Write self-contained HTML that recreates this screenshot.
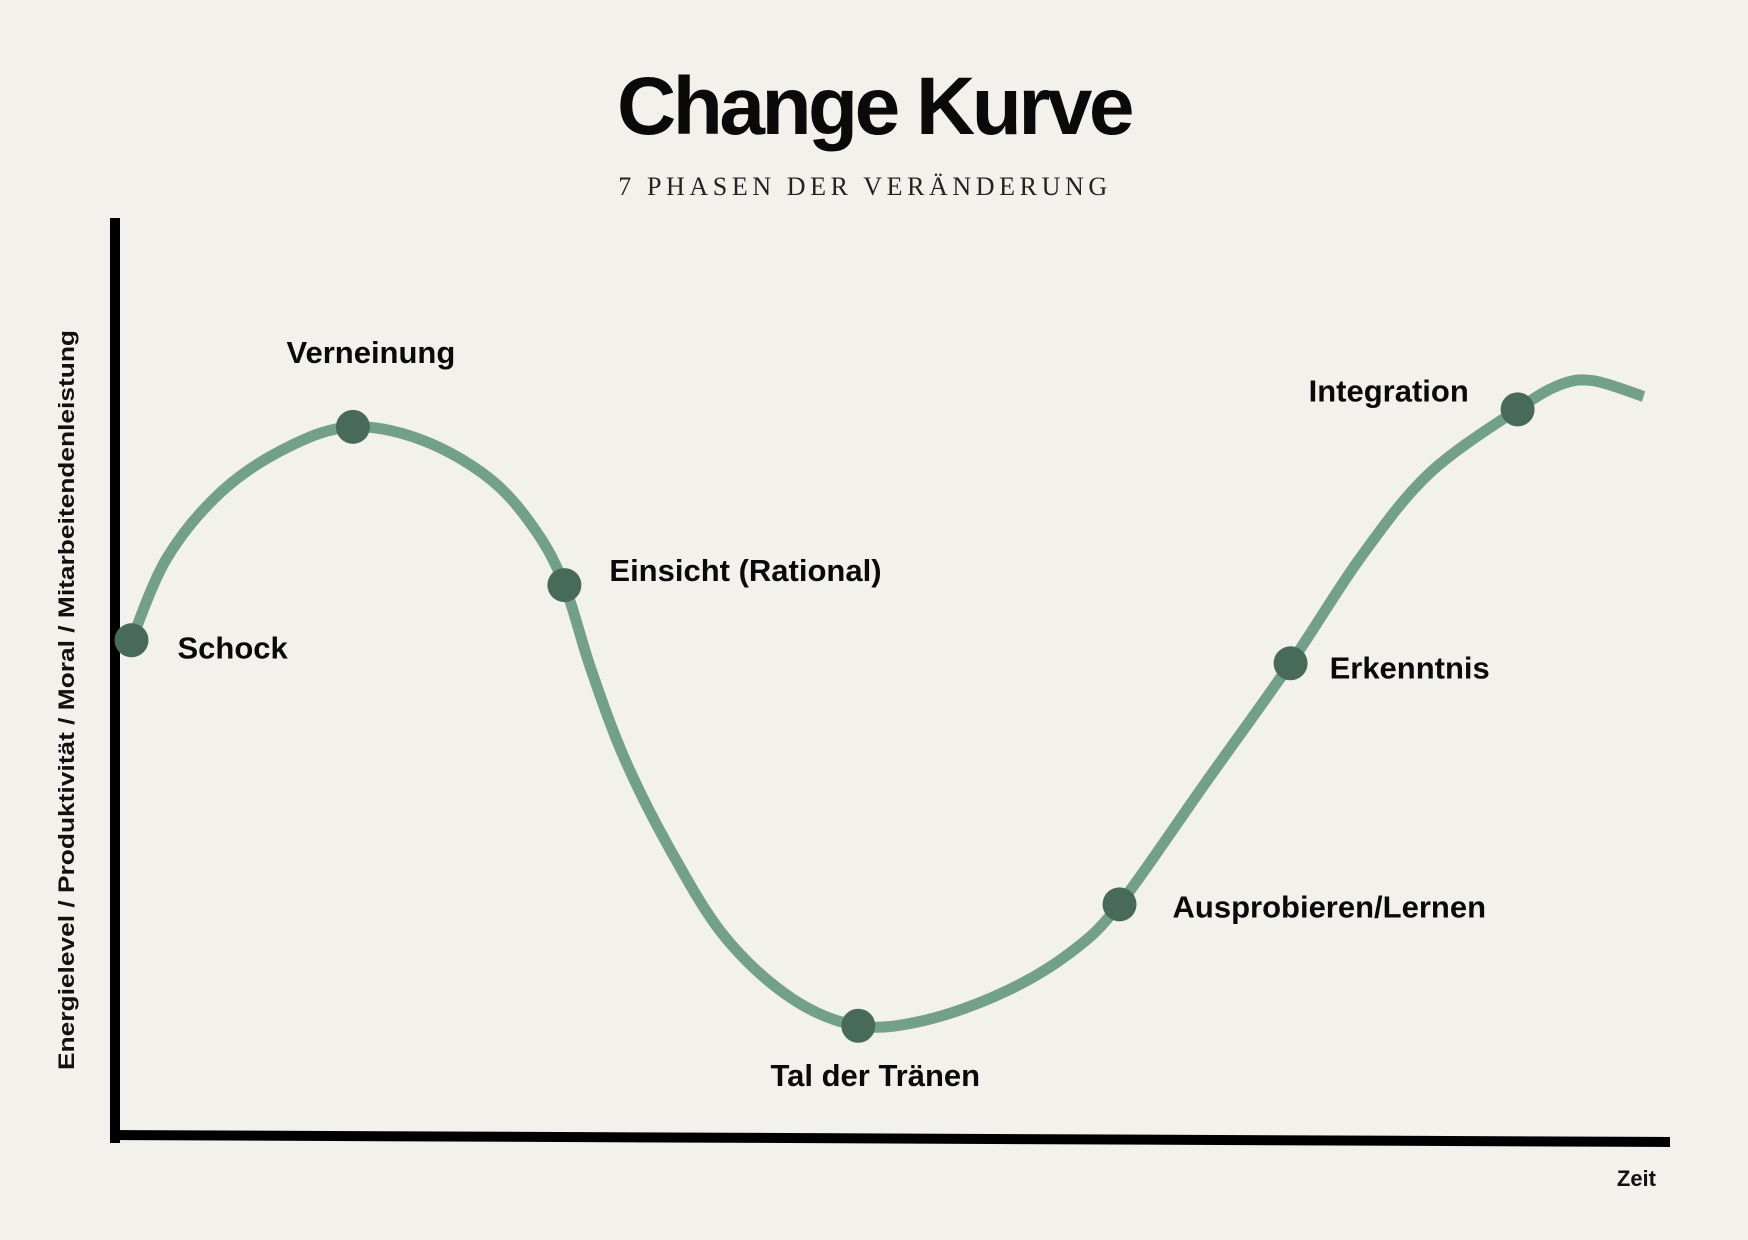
<!DOCTYPE html>
<html><head><meta charset="utf-8"><style>
html,body{margin:0;padding:0;background:#f2f1ec;}
svg{display:block;}
</style></head><body>
<svg id="chart" width="1748" height="1240" viewBox="0 0 1748 1240" xmlns="http://www.w3.org/2000/svg">
<rect width="1748" height="1240" fill="#f2f1ec"/>
<text x="874" y="134" text-anchor="middle" font-family="Liberation Sans, sans-serif" font-weight="bold" font-size="82" letter-spacing="-3.5" fill="#0a0a0a">Change Kurve</text>
<text x="865" y="195" text-anchor="middle" font-family="Liberation Serif, serif" font-size="26" letter-spacing="4.6" fill="#222">7 PHASEN DER VERÄNDERUNG</text>
<line x1="115" y1="218" x2="115" y2="1143" stroke="#000" stroke-width="10"/>
<line x1="110" y1="1135" x2="1670" y2="1142" stroke="#000" stroke-width="10"/>
<text transform="translate(74,700) rotate(-90)" text-anchor="middle" font-family="Liberation Sans, sans-serif" font-weight="bold" font-size="22" textLength="740" lengthAdjust="spacingAndGlyphs" fill="#111">Energielevel / Produktivität / Moral / Mitarbeitendenleistung</text>
<text x="1656" y="1186" text-anchor="end" font-family="Liberation Sans, sans-serif" font-weight="bold" font-size="22" fill="#111">Zeit</text>
<g id="plot"></g>
</svg>
<script>
const phases = ["Schock","Verneinung","Einsicht (Rational)","Tal der Tränen","Ausprobieren/Lernen","Erkenntnis","Integration"];
const times = [1.06, 15.3, 28.9, 47.8, 64.6, 75.6, 90.2];
const levels = [54.1, 77.3, 60.1, 12.2, 25.4, 51.6, 79.2];
const curveTimes = [1.06, 3.36, 6.94, 11.24, 15.3, 19.84, 24.15, 27.02, 28.9, 30.6, 32.75, 35.62, 39.2, 43.5, 47.8, 52.1, 57.1, 61.4, 64.6, 70.0, 75.6, 80.1, 84.5, 90.2, 92.97, 95.1, 98.3];
const curveLevels = [54.1, 63.1, 70.4, 75.2, 77.3, 75.8, 71.6, 66.1, 60.1, 51.0, 41.3, 31.6, 21.9, 15.2, 12.2, 12.8, 15.8, 20.1, 25.4, 38.3, 51.6, 63.1, 72.2, 79.2, 81.9, 82.3, 80.6];

const NS = "http://www.w3.org/2000/svg";
const plot = document.getElementById("plot");
function xs(t){ return 115 + t * 15.55; }
function ys(v){ return 1138 - v * 9.2; }

const pts = curveTimes.map((t,i)=>[xs(t), ys(curveLevels[i])]);
let d = "M" + pts[0][0] + "," + pts[0][1];
for (let i=0;i<pts.length-1;i++){
  const p0 = pts[Math.max(0,i-1)], p1 = pts[i], p2 = pts[i+1], p3 = pts[Math.min(pts.length-1,i+2)];
  const c1x = p1[0] + (p2[0]-p0[0])/6, c1y = p1[1] + (p2[1]-p0[1])/6;
  const c2x = p2[0] - (p3[0]-p1[0])/6, c2y = p2[1] - (p3[1]-p1[1])/6;
  d += " C" + c1x + "," + c1y + " " + c2x + "," + c2y + " " + p2[0] + "," + p2[1];
}
const path = document.createElementNS(NS,"path");
path.setAttribute("d", d);
path.setAttribute("fill","none");
path.setAttribute("stroke","#73a08a");
path.setAttribute("stroke-width","11");
path.setAttribute("stroke-linecap","butt");


plot.appendChild(path);

const labelLayout = [[46,7,"start"],[18,-75,"middle"],[45,-15,"start"],[17,49,"middle"],[53,2,"start"],[39,4,"start"],[-209,-19,"start"]];
phases.forEach((name,i)=>{
  const cx = xs(times[i]), cy = ys(levels[i]);
  const c = document.createElementNS(NS,"circle");
  c.setAttribute("cx", cx); c.setAttribute("cy", cy); c.setAttribute("r", 17);
  c.setAttribute("fill","#476a5a");
  
  
  plot.appendChild(c);
  const t = document.createElementNS(NS,"text");
  const L = labelLayout[i];
  t.setAttribute("x", cx + L[0]); t.setAttribute("y", cy + L[1] + 11);
  t.setAttribute("text-anchor", L[2]);
  t.setAttribute("font-family","Liberation Sans, sans-serif");
  t.setAttribute("font-weight","bold");
  t.setAttribute("font-size","31");
  t.setAttribute("fill","#0a0a0a");
  t.textContent = name;
  
  
  plot.appendChild(t);
});
</script>
</body></html>
